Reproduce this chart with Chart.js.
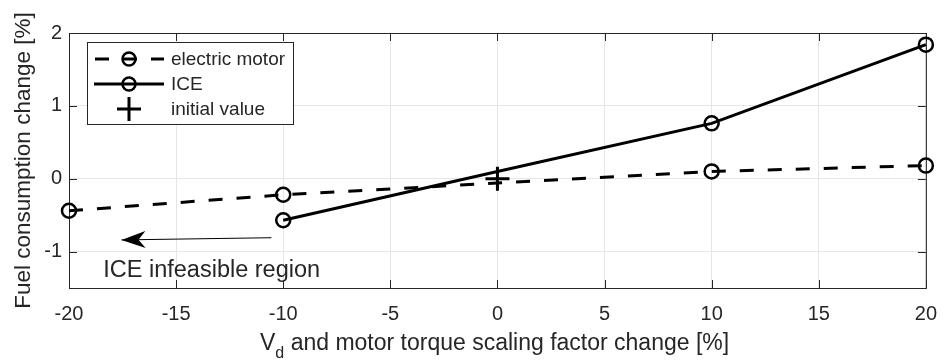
<!DOCTYPE html>
<html>
<head>
<meta charset="utf-8">
<script src="https://cdn.jsdelivr.net/npm/chart.js@4/dist/chart.umd.min.js"></script>
<style>
  html, body { margin: 0; padding: 0; background: #fff; }
  canvas { display: block; }
</style>
</head>
<body>
<canvas id="fuel-chart" width="951" height="363"></canvas>
<script>
// data
const xTicks = [-20, -15, -10, -5, 0, 5, 10, 15, 20];
const yTicks = [-1, 0, 1, 2];

const motorX = [-20, -10, 10, 20];
const motorY = [-0.44, -0.22, 0.10, 0.18];

const iceX = [-10, 0, 10, 20];
const iceY = [-0.57, 0.10, 0.76, 1.84];
const iceMarker = [7, 0, 7, 7]; // point at 0 sits under the "+" marker

const initX = [0];
const initY = [0];

const seriesLabels = ['electric motor', 'ICE', 'initial value'];
const noteText = 'ICE infeasible region';

const FONT = '"Liberation Sans", Arial, Helvetica, sans-serif';
const TXT = '#262626';

function pts(xs, ys) { return xs.map((x, i) => ({ x: x, y: ys[i] })); }

// axes box with inward ticks, MATLAB style
const boxPlugin = {
  id: 'box',
  beforeDatasetsDraw(chart) {
    const { ctx, chartArea: a, scales } = chart;
    ctx.save();
    ctx.strokeStyle = TXT;
    ctx.lineWidth = 1;
    ctx.strokeRect(a.left + 0.5, a.top + 0.5, a.right - a.left, a.bottom - a.top);
    ctx.beginPath();
    xTicks.forEach(v => {
      const px = Math.round(scales.x.getPixelForValue(v)) + 0.5;
      ctx.moveTo(px, a.bottom); ctx.lineTo(px, a.bottom - 8);
      ctx.moveTo(px, a.top); ctx.lineTo(px, a.top + 8);
    });
    yTicks.forEach(v => {
      const py = Math.round(scales.y.getPixelForValue(v)) + 0.5;
      ctx.moveTo(a.left, py); ctx.lineTo(a.left + 8, py);
      ctx.moveTo(a.right, py); ctx.lineTo(a.right - 8, py);
    });
    ctx.stroke();
    ctx.restore();
  },
  afterDraw(chart) {
    const { ctx, chartArea: a, scales } = chart;
    const ds = chart.data.datasets;
    ctx.save();

    // y title
    ctx.fillStyle = TXT;
    ctx.font = '22.5px ' + FONT;
    ctx.textAlign = 'center';
    ctx.textBaseline = 'middle';
    ctx.translate(24, (a.top + a.bottom) / 2);
    ctx.rotate(-Math.PI / 2);
    ctx.fillText('Fuel consumption change [%]', 0, 0);
    ctx.setTransform(1, 0, 0, 1, 0, 0);

    // x title with subscript
    const big = '23px ' + FONT, small = '16px ' + FONT;
    const rest = ' and motor torque scaling factor change [%]';
    ctx.textAlign = 'left';
    ctx.textBaseline = 'alphabetic';
    ctx.font = big; const wV = ctx.measureText('V').width;
    ctx.font = small; const wd = ctx.measureText('d').width;
    const x0 = 260;
    const base = 350;
    ctx.font = big; ctx.fillText('V', x0, base);
    ctx.font = small; ctx.fillText('d', x0 + wV, base + 8);
    ctx.font = big; ctx.fillText(rest, x0 + wV + wd, base);

    // arrow toward infeasible region
    const ax0 = scales.x.getPixelForValue(-10.55), ay0 = scales.y.getPixelForValue(-0.81);
    const ax1 = scales.x.getPixelForValue(-17.55), ay1 = scales.y.getPixelForValue(-0.84);
    const ang = Math.atan2(ay1 - ay0, ax1 - ax0);
    ctx.strokeStyle = '#000';
    ctx.fillStyle = '#000';
    ctx.lineWidth = 1;
    ctx.beginPath(); ctx.moveTo(ax0, ay0); ctx.lineTo(ax1, ay1); ctx.stroke();
    ctx.translate(ax1, ay1); ctx.rotate(ang);
    ctx.beginPath();
    ctx.moveTo(0, 0); ctx.lineTo(-24, -8.5); ctx.lineTo(-17, 0); ctx.lineTo(-24, 8.5); ctx.closePath();
    ctx.fill();
    ctx.setTransform(1, 0, 0, 1, 0, 0);

    // annotation text
    ctx.fillStyle = TXT;
    ctx.font = '23.5px ' + FONT;
    ctx.textBaseline = 'middle';
    ctx.fillText(noteText, scales.x.getPixelForValue(-18.4), scales.y.getPixelForValue(-1.26));

    // legend
    const lx = 87, ly = 42, lw = 206, lh = 82;
    ctx.fillStyle = '#fff';
    ctx.fillRect(lx, ly, lw, lh);
    ctx.strokeStyle = TXT;
    ctx.lineWidth = 1;
    ctx.strokeRect(lx + 0.5, ly + 0.5, lw, lh);
    const rows = [59, 84, 109];
    rows.forEach((ry, i) => {
      const d = ds[i];
      ctx.strokeStyle = '#000';
      ctx.lineWidth = 3;
      if (d.showLine !== false) {
        ctx.setLineDash(d.borderDash || []);
        ctx.lineDashOffset = d.borderDash ? -1 : 0;
        ctx.beginPath(); ctx.moveTo(94, ry); ctx.lineTo(164, ry); ctx.stroke();
        ctx.setLineDash([]);
        ctx.lineWidth = 2.5;
        ctx.beginPath(); ctx.arc(129, ry, 6.5, 0, Math.PI * 2); ctx.stroke();
      } else {
        ctx.beginPath();
        ctx.moveTo(117, ry); ctx.lineTo(141, ry);
        ctx.moveTo(129, ry - 12); ctx.lineTo(129, ry + 12);
        ctx.stroke();
      }
      ctx.fillStyle = TXT;
      ctx.font = '19px ' + FONT;
      ctx.textAlign = 'left';
      ctx.textBaseline = 'middle';
      ctx.fillText(seriesLabels[i], 171, ry + 1);
    });
    ctx.restore();
  }
};

new Chart(document.getElementById('fuel-chart'), {
  type: 'line',
  data: {
    datasets: [
      {
        label: seriesLabels[0], data: pts(motorX, motorY),
        borderColor: '#000', borderWidth: 3, borderDash: [14, 14],
        pointRadius: 7, pointBorderWidth: 2.5, pointBackgroundColor: 'rgba(0,0,0,0)',
        pointBorderColor: '#000', tension: 0, clip: false,
      },
      {
        label: seriesLabels[1], data: pts(iceX, iceY),
        borderColor: '#000', borderWidth: 3,
        pointRadius: iceMarker, pointBorderWidth: 2.5, pointBackgroundColor: 'rgba(0,0,0,0)',
        pointBorderColor: '#000', tension: 0, clip: false,
      },
      {
        label: seriesLabels[2], data: pts(initX, initY),
        showLine: false, pointStyle: 'cross', pointRadius: 12,
        pointBorderWidth: 3, pointBorderColor: '#000', borderColor: '#000', clip: false,
      },
    ]
  },
  options: {
    responsive: false, animation: false,
    layout: { padding: { left: 0, right: 19, top: 33, bottom: 0 } },
    scales: {
      x: {
        type: 'linear', min: -20, max: 20,
        afterBuildTicks: s => { s.ticks = xTicks.map(v => ({ value: v })); },
        afterFit: s => { s.height = 75; },
        grid: { color: '#e6e6e6', drawTicks: false },
        border: { display: false },
        ticks: { color: TXT, font: { size: 20, family: FONT }, padding: 14, maxRotation: 0 },
      },
      y: {
        min: -1.5, max: 2,
        afterBuildTicks: s => { s.ticks = yTicks.map(v => ({ value: v })); },
        afterFit: s => { s.width = 69; },
        grid: { color: '#e6e6e6', drawTicks: false },
        border: { display: false },
        ticks: { color: TXT, font: { size: 20, family: FONT }, padding: 7 },
      },
    },
    plugins: { legend: { display: false }, tooltip: { enabled: false } }
  },
  plugins: [boxPlugin]
});
</script>
</body>
</html>
